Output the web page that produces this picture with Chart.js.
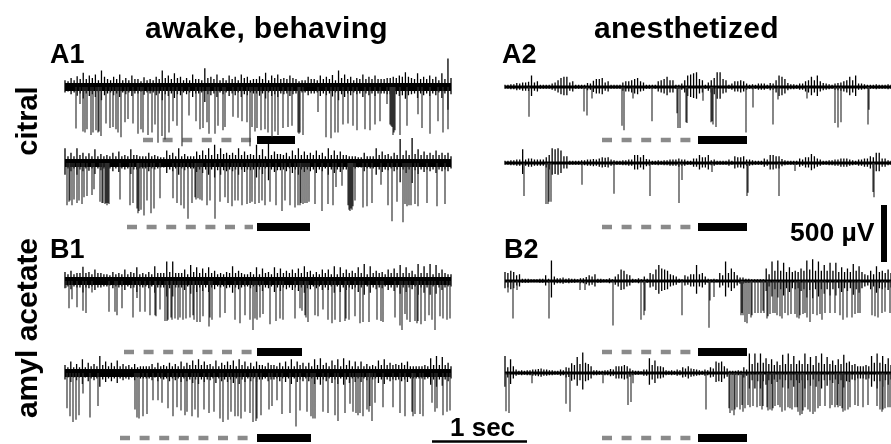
<!DOCTYPE html>
<html><head><meta charset="utf-8">
<script src="https://cdn.jsdelivr.net/npm/chart.js@4"></script>
<style>
html,body{margin:0;padding:0;background:#fff}
#wrap{position:relative;width:891px;height:444px;overflow:hidden}
canvas{position:absolute;left:0;top:0}
.t{position:absolute;font-family:"Liberation Sans",Arial,sans-serif;font-weight:700;color:#000;white-space:nowrap;line-height:1}
.r{transform:translate(-50%,-50%) rotate(-90deg)}
</style></head><body>
<div id="wrap"><canvas id="c" width="891" height="444"></canvas>
<div class="t" style="left:145px;top:13px;font-size:30px;letter-spacing:.3px">awake, behaving</div>
<div class="t" style="left:594px;top:13px;font-size:30px;letter-spacing:.25px">anesthetized</div>
<div class="t" style="left:50px;top:41px;font-size:27px">A1</div>
<div class="t" style="left:502px;top:41px;font-size:27px">A2</div>
<div class="t" style="left:50px;top:236px;font-size:27px">B1</div>
<div class="t" style="left:504px;top:236px;font-size:27px">B2</div>
<div class="t r" style="left:27px;top:121px;font-size:29px">citral</div>
<div class="t r" style="left:27px;top:328px;font-size:30px">amyl acetate</div>
<div class="t" style="left:790px;top:219px;font-size:26.5px">500 µV</div>
<div class="t" style="left:450px;top:414px;font-size:26px">1 sec</div>
</div>
<script>
// Each trace: spikes are flat lists "sample, depth in µV"; band lists are envelope heights in µV along the trace.
const a1aSpikes=[11,365,15,150,18,390,20,400,22,370,26,420,28,400,31,380,33,400,34,390,36,430,41,320,45,360,48,350,51,370,53,400,56,440,60,310,63,280,68,320,73,410,76,370,78,400,83,420,87,400,90,330,93,490,97,430,100,460,104,400,108,300,112,340,117,520,124,250,131,300,135,370,138,360,142,310,144,410,150,410,153,340,158,380,160,350,168,260,173,270,177,300,182,310,185,520,190,390,
187,350,192,360,196,380,200,370,203,400,207,440,210,390,213,420,218,360,223,350,227,340,233,400,234,410,235,400,238,420,253,220,261,440,266,450,270,400,273,400,278,330,283,320,288,340,292,380,300,370,305,380,310,330,315,300,322,150,325,330,326,340,327,350,328,420,329,400,330,380,335,420,342,340,353,240,357,360,365,410,373,300,378,400,383,370];
const a1bSpikes=[2,370,4,340,5,330,7,370,9,320,12,350,14,330,17,360,19,300,22,290,27,280,29,230,35,340,37,350,38,350,40,360,41,350,42,370,43,350,44,360,55,320,65,370,68,350,72,400,73,440,74,420,76,410,79,460,82,330,86,440,89,400,95,310,108,310,112,350,116,370,119,400,123,490,127,350,130,300,131,320,133,310,135,320,137,330,142,370,145,330,150,490,155,340,160,300,163,350,167,380,170,330,173,330,177,370,182,360,185,350,190,320,
187,340,190,360,194,350,197,330,200,370,205,340,211,370,217,420,220,330,225,370,230,390,233,370,235,370,236,350,238,360,240,350,242,350,244,340,250,360,257,420,263,360,268,370,271,210,277,200,283,370,284,410,285,420,286,400,287,410,288,380,290,330,298,390,302,380,307,350,316,190,323,370,327,510,332,340,338,520,340,360,342,380,344,370,346,370,350,360,353,380,362,350,372,380,380,360];
const b1aSpikes=[1,60,4,240,7,160,12,230,18,260,21,280,27,100,44,270,50,270,52,300,57,240,68,320,72,150,75,270,80,270,85,300,90,300,91,310,95,250,100,350,102,350,103,340,106,320,107,340,110,330,113,340,115,320,118,340,121,330,125,320,128,300,129,340,132,360,135,360,138,310,144,400,145,320,147,340,155,320,160,280,170,340,175,370,180,300,185,340,190,330,192,310,195,300,
188,430,192,340,195,320,198,290,205,380,211,350,215,330,218,340,230,330,235,240,237,260,240,300,241,320,243,360,250,300,253,310,258,250,263,340,267,370,270,340,275,360,280,350,281,330,284,340,290,310,295,370,298,360,304,360,312,340,316,350,318,360,330,320,335,390,337,430,340,290,342,340,345,360,350,350,352,370,353,350,356,380,360,350,364,300,367,340,370,430,375,310,378,330,382,340,385,330];
const b1bSpikes=[2,310,5,380,8,430,11,410,14,370,18,180,25,390,33,290,
70,320,72,390,74,400,78,380,82,360,88,240,93,240,97,260,103,310,108,380,112,300,116,330,120,370,122,340,127,380,130,320,133,390,139,320,144,350,149,340,155,400,158,430,163,410,166,340,170,380,173,380,176,400,180,340,185,350,188,360,191,420,192,400,
188,430,192,380,196,370,204,320,207,290,212,240,217,360,225,350,231,470,235,330,242,340,246,380,248,400,250,400,258,340,263,350,270,370,273,420,280,350,285,270,288,340,291,350,293,370,295,350,298,380,302,320,304,340,305,290,307,420,310,260,318,300,328,300,335,350,340,380,347,340,348,380,350,360,355,360,358,380,367,260,370,340,372,310,378,370,382,340,385,330];
const a2aSpikes=[24,260,79,215,82,250,87,100,117,340,119,380,128,100,147,300,172,230,173,360,175,360,181,310,182,315,198,120,206,310,207,300,208,330,211,350,241,400,248,180,268,330,273,110,302,100,330,315,333,355,336,310,363,330,364,200];
const a2bSpikes=[19,290,41,360,43,360,44,340,46,340,77,190,109,270,145,290,174,350,177,150,207,80,242,290,243,260,274,290,368,255,369,300,290,70];
const b2aSpikes=[3,100,8,330,12,80,44,330,75,80,80,80,108,390,136,340,139,300,140,260,177,300,204,410,205,170,209,140,
236,300,237,280,238,300,240,360,242,370,244,290,246,320,247,300,250,280,253,280,256,280,258,260,259,280,262,330,263,310,265,290,268,280,270,280,272,300,275,310,277,330,280,280,283,300,286,290,290,290,292,320,294,330,295,300,298,290,300,280,302,320,305,360,308,290,312,300,315,290,317,340,320,280,325,280,330,280,335,300,338,340,342,320,347,320,350,290,353,280,355,280,367,300,370,310,373,320,377,280,380,270,385,280];
const b2bSpikes=[1,335,4,350,27,90,61,270,65,340,98,90,123,280,126,255,128,90,201,320,
224,310,225,350,227,330,229,370,230,320,232,300,235,320,237,280,238,340,240,310,243,280,245,300,248,290,252,300,255,290,257,320,258,290,262,300,263,330,265,320,267,330,268,310,270,290,273,280,275,300,277,340,280,330,283,300,285,310,287,320,290,300,292,300,293,340,295,370,297,360,298,330,300,300,303,320,305,340,308,360,310,340,313,310,315,290,320,290,325,310,327,280,330,300,332,280,333,300,335,290,337,310,338,340,340,330,343,320,345,300,350,280,353,290,358,300,363,280,372,290,375,320,377,340,378,320,380,310,383,300,385,300];

const a1aBand=[60,50,80,60,95,70,125,70,100,80,110,60,145,90,70,60,90,70,110,60,80,60,100,70,70,50,85,60,70,60,90,70,145,80,100,70,120,80,90,60,80,60,110,70,70,60,165,80,90,70,110,60,80,60,100,70,90,60,110,80,90,60,70,70,95,70,125,60,100,80,110,70,80,70,100,80,70,50,60,60,90,70,70,60,100,70,90,70,105,60,145,80,110,70,90,60,80,70,110,70,90,70,100,70,70,70,80,80,90,80,100,90,130,90,80,70,120,70,90,70,100,70,90,60,120,70,250,80];
const a1bBand=[130,60,90,60,130,70,90,60,85,60,120,60,80,60,70,60,90,60,100,60,70,60,120,70,70,60,60,60,90,60,70,60,50,50,110,70,90,60,130,60,80,60,60,60,100,70,110,70,130,70,160,80,130,80,90,70,90,70,130,70,100,70,80,70,160,70,120,60,190,70,100,80,80,70,90,60,110,70,130,70,100,70,90,70,110,70,90,60,130,70,110,70,100,70,70,60,60,60,50,50,90,60,60,60,130,70,100,70,80,60,90,70,210,70,110,70,220,80,120,70,100,70,90,70,110,70,90,70,90,60];
const b1aBand=[80,60,90,60,70,70,125,70,80,60,100,70,70,60,60,50,80,60,70,60,100,60,80,70,120,60,70,60,80,60,130,70,70,70,170,80,170,70,70,70,100,60,140,80,120,70,110,70,120,70,90,60,70,60,80,70,130,70,90,70,60,60,80,60,120,60,110,70,80,60,120,70,110,70,90,70,100,70,110,70,130,80,90,60,80,60,100,70,100,60,130,60,120,70,100,70,90,70,120,70,150,60,130,70,90,70,80,60,100,70,110,70,140,70,120,70,90,60,150,70,130,70,150,60,140,70,100,70,60,60];
const b1bBand=[70,50,100,50,80,50,120,50,90,60,80,60,150,70,100,60,90,60,110,60,80,60,70,50,80,50,60,60,60,60,80,50,90,60,70,60,90,60,80,60,100,60,90,70,110,70,120,70,100,70,80,60,110,60,90,70,100,70,110,60,120,70,100,60,90,60,100,70,70,60,90,70,70,60,90,60,100,60,120,60,100,70,90,60,90,60,120,70,130,70,90,60,110,70,120,60,130,70,110,60,100,60,100,60,80,60,70,60,110,70,120,70,90,70,80,70,90,70,100,60,60,60,60,60,70,60,130,70,150,70,140,70,90,60];
const a2aBand=[20,20,25,25,35,30,40,40,45,100,40,50,20,20,20,20,30,40,60,80,90,90,40,50,20,20,20,20,35,30,55,70,70,80,40,50,20,20,20,20,40,50,50,60,70,80,50,40,20,20,20,20,50,60,70,90,60,60,20,20,30,60,100,110,120,130,70,60,20,40,60,80,130,130,70,60,20,30,50,50,60,50,30,20,25,20,30,30,30,20,35,30,60,100,90,70,35,25,25,20,30,30,50,60,90,60,100,50,35,30,25,20,30,35,40,50,60,90,60,100,30,30,25,20,20,20,25,20,20,20,25,20];
const a2bBand=[20,20,25,25,30,30,120,30,40,40,30,30,30,30,50,70,130,120,130,110,60,60,20,20,20,20,25,25,30,30,35,30,40,50,45,50,30,25,20,20,25,25,30,30,70,70,50,70,35,30,20,20,25,20,25,25,30,30,30,40,30,30,20,20,40,40,70,50,50,70,25,30,20,20,20,20,30,20,60,50,50,60,30,30,25,20,20,20,40,30,70,70,60,60,35,25,20,20,20,20,40,30,50,50,80,60,40,30,20,20,25,25,30,30,40,40,40,30,25,20,30,30,40,40,60,50,90,90,40,40,25,20];
const b2aBand=[80,70,90,80,50,60,20,20,20,15,15,15,20,20,50,20,180,40,25,25,30,20,25,20,20,15,25,25,35,50,40,60,20,20,15,15,25,15,40,60,100,90,60,50,20,15,25,15,40,20,70,60,100,140,110,100,90,60,50,40,20,15,50,40,60,60,140,60,70,40,20,15,20,15,70,50,170,70,110,80,50,30,30,20,20,15,15,15,15,15,110,60,170,90,180,90,160,80,120,80,90,80,110,90,180,100,190,90,170,90,140,90,160,90,160,80,120,80,110,80,150,90,130,80,60,50,90,60,130,80,90,70,100,70];
const b2bBand=[150,50,120,60,30,20,25,20,25,25,30,30,35,40,30,30,25,25,20,20,30,25,50,45,85,70,140,80,180,90,80,60,25,25,20,20,25,25,35,30,60,60,60,70,60,40,25,20,20,15,30,30,130,70,110,60,60,50,25,20,25,20,30,25,50,40,60,40,35,30,25,20,30,25,50,40,100,90,100,60,40,20,20,20,25,20,50,30,170,80,170,90,170,90,130,80,120,70,100,70,160,80,170,80,150,80,110,80,170,80,140,70,150,90,170,80,140,80,110,70,120,80,160,90,100,70,80,60,60,60,70,60,150,90,170,90,150,80,130,70];

// Stimulus windows, in samples: odor lead-in (dashed), odor (solid)
const stimA1a=[143,253,257,295], stimA1b=[127,253,257,310], stimB1a=[124,253,257,302], stimB1b=[120,253,257,311];
const stimA2a=[602,692,698,747], stimA2b=[602,692,698,747], stimB2a=[602,692,698,747], stimB2b=[602,692,698,747];

const SAMPLES_PER_SEC=95, TRACE_LEN=386, UV_PER_PX=500/57;
const px=p=>-p*UV_PER_PX;
const traces=[
 {s:a1aSpikes,b:a1aBand,x0:65,y:87,core:8,stimY:140,stim:stimA1a},
 {s:a1bSpikes,b:a1bBand,x0:65,y:163,core:8,stimY:227,stim:stimA1b},
 {s:b1aSpikes,b:b1aBand,x0:65,y:281,core:8,stimY:352,stim:stimB1a},
 {s:b1bSpikes,b:b1bBand,x0:65,y:373,core:8,stimY:438,stim:stimB1b},
 {s:a2aSpikes,b:a2aBand,x0:505,y:87,core:3,stimY:140,stim:stimA2a},
 {s:a2bSpikes,b:a2bBand,x0:505,y:163,core:3,stimY:227,stim:stimA2b},
 {s:b2aSpikes,b:b2aBand,x0:505,y:281,core:3,stimY:352,stim:stimB2a},
 {s:b2bSpikes,b:b2bBand,x0:505,y:373,core:3,stimY:438,stim:stimB2b}
];
const line=(data,color,w,extra)=>Object.assign({type:'line',data,borderColor:color,borderWidth:w,pointRadius:0,tension:0,fill:false,borderCapStyle:'butt',borderJoinStyle:'miter'},extra||{});
const GAP={x:NaN,y:NaN};
const ds=[];
traces.forEach(tr=>{
  const base=px(tr.y), pts=[], hairs=[];
  for(let i=0;i<tr.s.length;i+=2){const x=tr.x0+tr.s[i];pts.push({x,y:base},{x,y:base-tr.s[i+1]},GAP);}
  ds.push(line(pts,'#2e2e2e',1.15,{spanGaps:false}));
  const step=TRACE_LEN/(tr.b.length-1);
  tr.b.forEach((v,i)=>{const x=tr.x0+i*step;hairs.push({x,y:base+v},{x,y:base-v*0.8},GAP);});
  ds.push(line(hairs,'#000',1.3,{spanGaps:false}));
  ds.push(line([{x:tr.x0,y:base},{x:tr.x0+TRACE_LEN,y:base}],'#000',tr.core));
  ds.push(line([{x:tr.stim[0],y:px(tr.stimY)},{x:tr.stim[1],y:px(tr.stimY)}],'#8a8a8a',4.5,{borderDash:[10,9.6]}));
  ds.push(line([{x:tr.stim[2],y:px(tr.stimY)},{x:tr.stim[3],y:px(tr.stimY)}],'#000',8));
});
// Scale bars: 500 µV and 1 sec
ds.push(line([{x:884,y:px(205)},{x:884,y:px(205)-500}],'#000',6));
ds.push(line([{x:432,y:px(441.5)},{x:432+SAMPLES_PER_SEC,y:px(441.5)}],'#000',2.5));

new Chart(document.getElementById('c'),{
  data:{datasets:ds},
  options:{responsive:false,animation:false,devicePixelRatio:1,
    layout:{padding:0},
    plugins:{legend:{display:false},tooltip:{enabled:false},title:{display:false}},
    scales:{x:{type:'linear',min:0,max:891,display:false},
            y:{type:'linear',min:px(444),max:0,display:false}}}
});
</script></body></html>
